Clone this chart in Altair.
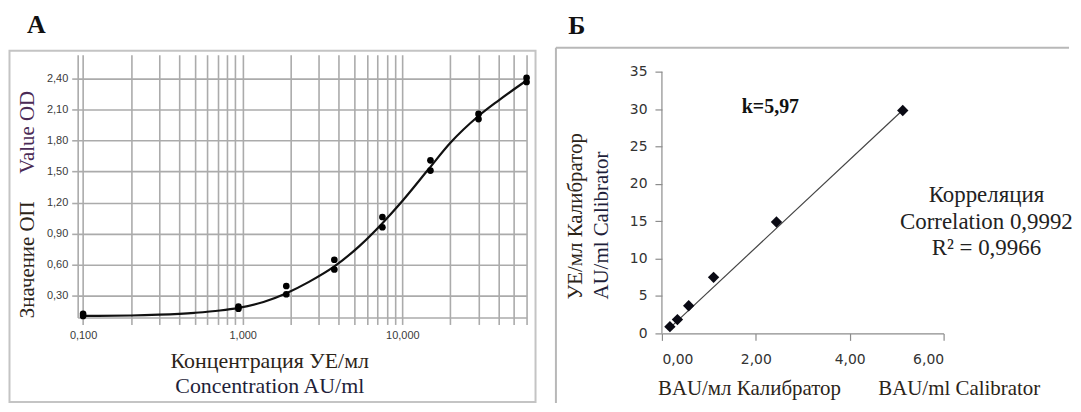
import altair as alt
import pandas as pd

# ---------------- Panel A data ----------------
a_std_x = [0.1, 0.1, 0.94, 0.94, 1.875, 1.875, 3.75, 3.75, 7.5, 7.5, 15, 15, 30, 30, 60, 60]
a_std_y = [0.12, 0.10, 0.19, 0.17, 0.39, 0.31, 0.645, 0.55, 1.06, 0.96, 1.61, 1.51, 2.06, 2.01, 2.41, 2.37]
a_curve_x = [0.1, 0.2, 0.3, 0.5, 0.72, 0.94, 1.35, 1.88, 2.6, 3.75, 5.4, 7.5, 10, 14.7, 20, 30, 40, 60]
a_curve_y = [0.100, 0.104, 0.112, 0.13, 0.152, 0.178, 0.235, 0.32, 0.43, 0.58, 0.78, 1.0, 1.215, 1.53, 1.78, 2.04, 2.19, 2.385]
a_x_grid = [0.1, 0.2, 0.3, 0.4, 0.5, 0.6, 0.7, 0.8, 0.9,
            1, 2, 3, 4, 5, 6, 7, 8, 9,
            10, 20, 30, 40, 50, 60]
a_y_ticks = [0.3, 0.6, 0.9, 1.2, 1.5, 1.8, 2.1, 2.4]

# ---------------- Panel B data ----------------
b_x = [0.17, 0.33, 0.57, 1.10, 2.44, 5.13]
b_y = [0.9, 1.85, 3.7, 7.5, 14.9, 29.8]
b_trend_x = [0.13, 5.12]
b_trend_y = [0.5, 29.8]
b_x_ticks = [0, 2, 4, 6]
b_y_ticks = [0, 5, 10, 15, 20, 25, 30, 35]
b_axis_x = [0, 0]
b_axis_y = [0, 35]

SERIF = "Liberation Serif, Times New Roman, serif"
NARROW = "Liberation Sans Narrow, Arial Narrow, Liberation Sans, sans-serif"
SANS = "DejaVu Sans, Verdana, sans-serif"
GRID = "#ababab"


def label(text, x, y, **kw):
    return alt.Chart(pd.DataFrame({"t": [text]})).mark_text(**kw).encode(
        text="t:N", x=alt.value(x), y=alt.value(y)
    )


def box(x, x2, y, y2, **kw):
    return alt.Chart(pd.DataFrame({"t": [0]})).mark_rect(**kw).encode(
        x=alt.value(x), x2=alt.value(x2), y=alt.value(y), y2=alt.value(y2)
    )


def rule(x, x2, y, y2, **kw):
    return alt.Chart(pd.DataFrame({"t": [0]})).mark_rule(**kw).encode(
        x=alt.value(x), x2=alt.value(x2), y=alt.value(y), y2=alt.value(y2)
    )


# ================= Panel A =================
A_W, A_H = 451, 264
dfA_curve = pd.DataFrame({"x": a_curve_x, "y": a_curve_y})
dfA_pts = pd.DataFrame({"x": a_std_x, "y": a_std_y})

xA = alt.X(
    "x:Q",
    scale=alt.Scale(type="log", domain=[0.0925, 60], nice=False),
    axis=alt.Axis(
        values=a_x_grid, grid=True, gridColor=GRID, gridWidth=1.6,
        domainColor=GRID, domainWidth=1.6, tickColor=GRID, tickWidth=1.6,
        tickSize=7, labelPadding=5, labelFont=NARROW, labelFontSize=11,
        labelColor="#3a3a3a", labelOverlap=False, labelFlush=False,
        labelExpr="datum.value == 0.1 ? '0,100' : datum.value == 1 ? '1,000' : datum.value == 10 ? '10,000' : ''",
        title=None,
    ),
)
yA = alt.Y(
    "y:Q",
    scale=alt.Scale(domain=[0.0846, 2.6347], nice=False, zero=False),
    axis=alt.Axis(
        values=a_y_ticks, grid=True, gridColor=GRID, gridWidth=1.6,
        domainColor=GRID, domainWidth=1.6, tickColor=GRID, tickWidth=1.6,
        tickSize=6, labelPadding=4, labelFont=NARROW, labelFontSize=11,
        labelColor="#3a3a3a",
        labelExpr="replace(format(datum.value, '.2f'), '.', ',')",
        title=None,
    ),
)

a_bg = box(-69, 463, -46, 350, fill="white", fillOpacity=0, strokeWidth=0)
a_frame = box(-68.5, 460, -4, 349, filled=False, stroke="#c4c4c4", strokeWidth=2)
a_curve = alt.Chart(dfA_curve).mark_line(color="#111111", strokeWidth=2.2, interpolate="monotone").encode(x=xA, y=yA)
a_pts = alt.Chart(dfA_pts).mark_point(filled=True, shape="circle", size=45, color="#000000", opacity=1).encode(x=xA, y=yA)

panelA = alt.layer(
    a_bg, a_frame, a_curve, a_pts,
    label("A", -51, -22.3, font=SERIF, fontSize=26, fontWeight="bold", align="left", baseline="alphabetic", color="#111111"),
    label("Value OD", -49.4, 78, font=SERIF, fontSize=21, angle=270, align="center", baseline="middle", color="#4a2a55"),
    label("Значение ОП", -49.4, 206, font=SERIF, fontSize=21, angle=270, align="center", baseline="middle", color="#2c2418"),
    label("Концентрация УЕ/мл", 193, 308, font=SERIF, fontSize=22, align="center", baseline="middle", color="#2c2418"),
    label("Concentration AU/ml", 193, 333, font=SERIF, fontSize=22, align="center", baseline="middle", color="#1f1f3a"),
).properties(width=A_W, height=A_H)

# ================= Panel B =================
# plot origin shares the top of panel A (page y 54); value 35 sits 17px lower
B_W, B_H = 283, 280
dfB_pts = pd.DataFrame({"x": b_x, "y": b_y})
dfB_trend = pd.DataFrame({"x": b_trend_x, "y": b_trend_y})
dfB_axis = pd.DataFrame({"x": b_axis_x, "y": b_axis_y})

xB = alt.X(
    "x:Q",
    scale=alt.Scale(domain=[0, 6], nice=False, zero=False),
    axis=alt.Axis(
        values=b_x_ticks, grid=False, domainColor="#8c8c8c", domainWidth=1.2,
        tickColor="#8c8c8c", tickWidth=1.2, tickSize=7, labelPadding=12,
        labelFont=SANS, labelFontSize=14, labelColor="#333333",
        labelExpr="replace(format(datum.value, '.2f'), '.', ',')", title=None,
    ),
)
yB = alt.Y(
    "y:Q",
    scale=alt.Scale(domain=[0, 37.262], nice=False, zero=False),
    axis=alt.Axis(
        values=b_y_ticks, grid=False, domain=False,
        tickColor="#8c8c8c", tickWidth=1.2, tickSize=7, labelPadding=8,
        labelFont=SANS, labelFontSize=14, labelColor="#333333",
        format="d", title=None,
    ),
)

b_bg = box(-107, 409, -46, 350, fill="white", fillOpacity=0, strokeWidth=0)
b_top = rule(-106.5, 409, -7, -7, color="#b8b8b8", strokeWidth=2)
b_left = rule(-106.5, -106.5, -7, 350, color="#b8b8b8", strokeWidth=2)
b_yaxis = alt.Chart(dfB_axis).mark_line(color="#8c8c8c", strokeWidth=1.2).encode(x=xB, y=yB)
b_trend = alt.Chart(dfB_trend).mark_line(color="#444444", strokeWidth=1.2).encode(x=xB, y=yB)
b_pts = alt.Chart(dfB_pts).mark_point(filled=True, shape="diamond", size=130, color="#0a0a14", opacity=1).encode(x=xB, y=yB)

panelB = alt.layer(
    b_bg, b_top, b_left, b_yaxis, b_trend, b_pts,
    label("Б", -94, -21, font=SERIF, fontSize=26, fontWeight="bold", align="left", baseline="alphabetic", color="#111111"),
    label("УЕ/мл Калибратор", -86, 246, font=SERIF, fontSize=21, angle=270, align="left", baseline="middle", color="#2c2418"),
    label("AU/ml Calibrator", -59.7, 246, font=SERIF, fontSize=21, angle=270, align="left", baseline="middle", color="#1f1f3a"),
    label("BAU/мл Калибратор", -4, 336, font=SERIF, fontSize=21, align="left", baseline="middle", color="#2c2418"),
    label("BAU/ml Calibrator", 380, 336, font=SERIF, fontSize=21, align="right", baseline="middle", color="#2c2418"),
    label("k=5,97", 109, 52.7, font=SERIF, fontSize=20, fontWeight="bold", align="center", baseline="middle", color="#111111"),
    label("Корреляция", 326, 141, font=SERIF, fontSize=23, align="center", baseline="middle", color="#222222"),
    label("Correlation 0,9992", 326, 167.7, font=SERIF, fontSize=23, align="center", baseline="middle", color="#222222"),
    label("R² = 0,9966", 326, 194.3, font=SERIF, fontSize=23, align="center", baseline="middle", color="#222222"),
).properties(width=B_W, height=B_H)

chart = alt.hconcat(panelA, panelB, spacing=16).properties(
    padding=0, background="white"
).configure_view(stroke=None)

chart.save("out.html", embed_options={"renderer": "svg", "actions": False})
